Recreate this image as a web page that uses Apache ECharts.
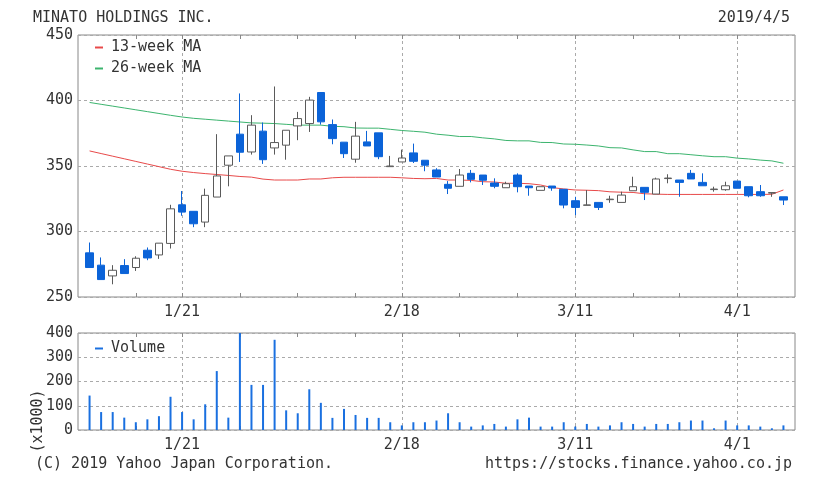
<!DOCTYPE html>
<html><head><meta charset="utf-8">
<script src="https://cdn.jsdelivr.net/npm/echarts@6/dist/echarts.min.js"></script>
<style>html,body{margin:0;padding:0;background:#fff}#c{width:820px;height:482px}</style>
</head><body><div id="c"></div>
<script>
const dates = ['1/8','1/9','1/10','1/11','1/15','1/16','1/17','1/18','1/21','1/22','1/23','1/24','1/25','1/28','1/29','1/30','1/31','2/1','2/4','2/5','2/6','2/7','2/8','2/12','2/13','2/14','2/15','2/18','2/19','2/20','2/21','2/22','2/25','2/26','2/27','2/28','3/1','3/4','3/5','3/6','3/7','3/8','3/11','3/12','3/13','3/14','3/15','3/18','3/19','3/20','3/22','3/25','3/26','3/27','3/28','3/29','4/1','4/2','4/3','4/4','4/5'];
const openP  = [283.7,274.3,266.1,274.0,272.5,285.7,282.1,290.9,320.4,315.4,307.2,326.3,350.6,374.3,360.7,376.6,363.8,365.9,380.6,382.4,406.1,381.6,368.2,355.2,368.4,375.3,349.5,353.1,360.0,354.4,347.0,336.0,334.5,344.4,343.1,337.0,333.4,343.1,334.7,331.4,334.7,332.2,323.5,320.0,322.2,324.3,322.2,331.1,333.7,328.6,340.4,339.3,344.4,337.5,332.0,331.9,338.5,334.2,330.4,329.3,326.5];
const closeP = [272.5,263.3,270.4,267.9,279.6,279.8,291.1,317.3,314.8,305.9,327.6,342.4,357.7,360.5,381.2,354.8,367.9,377.3,386.2,400.3,383.7,370.9,359.4,372.8,365.3,357.1,350.0,356.1,353.6,350.6,341.6,333.0,343.1,339.8,339.1,334.5,336.5,334.2,333.4,334.2,333.2,320.2,318.4,320.3,318.4,324.7,327.8,334.2,329.9,340.1,340.8,337.5,340.1,334.9,332.4,334.9,333.0,327.3,327.3,329.7,324.0];
const lowP   = [272.5,263.3,259.7,267.9,269.9,278.1,279.1,287.0,312.0,303.3,303.3,326.3,334.5,353.1,358.7,351.6,358.7,354.8,369.7,376.0,381.6,366.6,356.1,352.5,365.3,355.2,349.5,353.1,352.3,346.0,341.6,328.6,334.5,337.5,335.5,333.0,333.4,329.9,327.3,331.4,331.1,317.7,312.5,320.0,316.4,321.9,322.2,331.1,324.0,328.6,336.8,326.5,340.1,334.9,330.4,331.1,333.0,326.1,326.5,326.5,320.2];
const highP  = [291.6,280.2,274.3,278.9,281.1,287.8,291.1,320.4,330.9,315.4,332.7,374.3,357.7,405.4,388.8,383.2,410.7,377.3,391.3,402.8,406.1,385.5,368.2,383.7,376.8,375.3,357.7,362.5,367.1,354.4,348.3,338.5,347.7,347.0,343.1,340.6,338.0,344.4,334.7,334.2,334.7,332.2,326.5,331.6,322.2,327.3,330.4,341.8,333.7,341.1,343.7,339.3,347.0,344.4,334.2,338.0,338.5,334.2,335.5,329.7,326.5];
const ma13 = [361.5,359.5,357.5,355.5,353.5,351.5,349.5,347.5,346.0,345.0,344.2,343.5,342.8,342.0,341.5,340.0,339.3,339.3,339.3,340.1,340.1,341.0,341.4,341.4,341.4,341.4,341.4,341.0,340.5,340.3,340.5,339.3,339.3,339.0,338.0,337.8,336.8,336.8,336.5,335.5,333.5,332.5,331.7,331.5,331.2,330.3,330.0,329.8,328.8,328.5,328.3,328.3,328.3,328.3,328.3,328.3,328.3,328.3,328.3,328.4,331.7];
const ma26 = [398.5,397.1,395.7,394.3,392.9,391.5,390.1,388.7,387.4,386.4,385.7,385.0,384.3,383.6,382.9,382.7,382.4,381.8,381.2,381.2,381.2,380.3,380.0,379.0,378.9,378.9,378.0,377.1,376.5,375.8,374.3,373.5,372.5,372.5,371.5,370.7,369.5,369.2,369.2,368.0,367.9,366.8,366.6,366.0,365.3,364.0,363.8,362.3,361.0,361.0,359.4,359.4,358.6,357.8,357.1,357.1,356.0,355.4,354.5,353.9,352.1];
const volume = [142,74,74,51,32,44,57,137,74,44,106,243,51,400,186,186,372,81,69,168,112,50,87,62,50,50,32,19,32,32,39,69,32,14,19,25,14,44,51,14,14,32,14,25,14,19,32,25,14,25,25,32,39,39,7,39,19,19,14,7,19];
const labelDates = ['1/21','2/18','3/11','4/1'];
const weekStarts = ['1/15','1/21','1/28','2/4','2/12','2/18','2/25','3/4','3/11','3/18','3/25','4/1'];
const priceTicks = [250,450,50];
const volTicks = [0,400,100];

const cats = [''].concat(dates, ['']);
const FONT = 'DejaVu Sans Mono';
const TXT = '#333';
const candleData = dates.map((d,i)=>[i+1, openP[i], closeP[i], lowP[i], highP[i]]);
const ma13Data = dates.map((d,i)=>[i+1, ma13[i]]);
const ma26Data = dates.map((d,i)=>[i+1, ma26[i]]);
const volData = dates.map((d,i)=>[i+1, volume[i]]);

const isLabel = (idx, val) => labelDates.indexOf(cats[idx]) >= 0;
const isWeek = (idx, val) => weekStarts.indexOf(cats[idx]) >= 0;
const dash = {color:'#aaa', type:[3,3], width:1};
const ts = {color:TXT, fontFamily:FONT, fontSize:15, fontWeight:'normal'};

function xAx(grid, pos, labels) {
  return {
    type:'category', gridIndex:grid, position:pos, data:cats, boundaryGap:false,
    axisLine:{show:false},
    axisTick:{show:true, inside:true, length:4, interval:isWeek, lineStyle:{color:'#888'}},
    axisLabel:{show:labels, interval:isLabel, color:TXT, fontFamily:FONT, fontSize:15, margin:8},
    splitLine:{show:labels, interval:isLabel, lineStyle:dash}
  };
}
function yAx(grid, t) {
  return {
    type:'value', gridIndex:grid, min:t[0], max:t[1], interval:t[2],
    axisLine:{show:false}, axisTick:{show:false},
    axisLabel:{color:TXT, fontFamily:FONT, fontSize:15, margin:5},
    splitLine:{show:true, lineStyle:dash}
  };
}

const chart = echarts.init(document.getElementById('c'), null, {renderer:'canvas'});
chart.setOption({
  animation:false,
  backgroundColor:'#fff',
  title:[
    {text:'MINATO HOLDINGS INC.', left:33, top:11, padding:0, textStyle:ts},
    {text:'2019/4/5', right:30, top:11, padding:0, textStyle:ts},
    {text:'(C) 2019 Yahoo Japan Corporation.', left:35, top:457, padding:0, textStyle:ts},
    {text:'https://stocks.finance.yahoo.co.jp', right:28, top:457, padding:0, textStyle:ts}
  ],
  legend:[
    {data:['13-week MA','26-week MA'], orient:'vertical', left:95, top:40, padding:0, icon:'rect', itemWidth:8, itemHeight:2, itemGap:6,
     textStyle:{color:TXT, fontFamily:FONT, fontSize:15, lineHeight:15, padding:[0,0,0,3]}, selectedMode:false},
    {data:['Volume'], orient:'vertical', left:95, top:341, padding:0, icon:'rect', itemWidth:8, itemHeight:2,
     textStyle:{color:TXT, fontFamily:FONT, fontSize:15, lineHeight:15, padding:[0,0,0,3]}, selectedMode:false}
  ],
  grid:[
    {left:78, right:25, top:35, height:262, show:true, borderColor:'#888', borderWidth:1, backgroundColor:'transparent'},
    {left:78, right:25, top:333, height:97, show:true, borderColor:'#888', borderWidth:1, backgroundColor:'transparent'}
  ],
  xAxis:[xAx(0,'bottom',true), xAx(0,'top',false), xAx(1,'bottom',true), xAx(1,'top',false)],
  yAxis:[yAx(0, priceTicks), yAx(1, volTicks)],
  graphic:[
    {type:'text', x:38, y:421, rotation:Math.PI/2,
     style:{text:'(x1000)', fill:TXT, font:'15px "DejaVu Sans Mono"', align:'center', verticalAlign:'middle'}}
  ],
  series:[
    {type:'candlestick', name:'Price', xAxisIndex:0, yAxisIndex:0, data:candleData,
     encode:{x:0, y:[1,2,3,4]}, barWidth:8,
     itemStyle:{color:'#ffffff', color0:'#0b63d8', borderColor:'#5a5a5a', borderColor0:'#0b63d8', borderWidth:1}},
    {type:'line', name:'13-week MA', xAxisIndex:0, yAxisIndex:0, data:ma13Data, showSymbol:false, symbol:'none',
     color:'#e84a4a', lineStyle:{width:1, color:'#e84a4a'}, z:1},
    {type:'line', name:'26-week MA', xAxisIndex:0, yAxisIndex:0, data:ma26Data, showSymbol:false, symbol:'none',
     color:'#3cb46e', lineStyle:{width:1, color:'#3cb46e'}, z:1},
    {type:'bar', name:'Volume', xAxisIndex:2, yAxisIndex:1, data:volData, barWidth:2,
     itemStyle:{color:'#1a70e0'}}
  ]
});
</script></body></html>
